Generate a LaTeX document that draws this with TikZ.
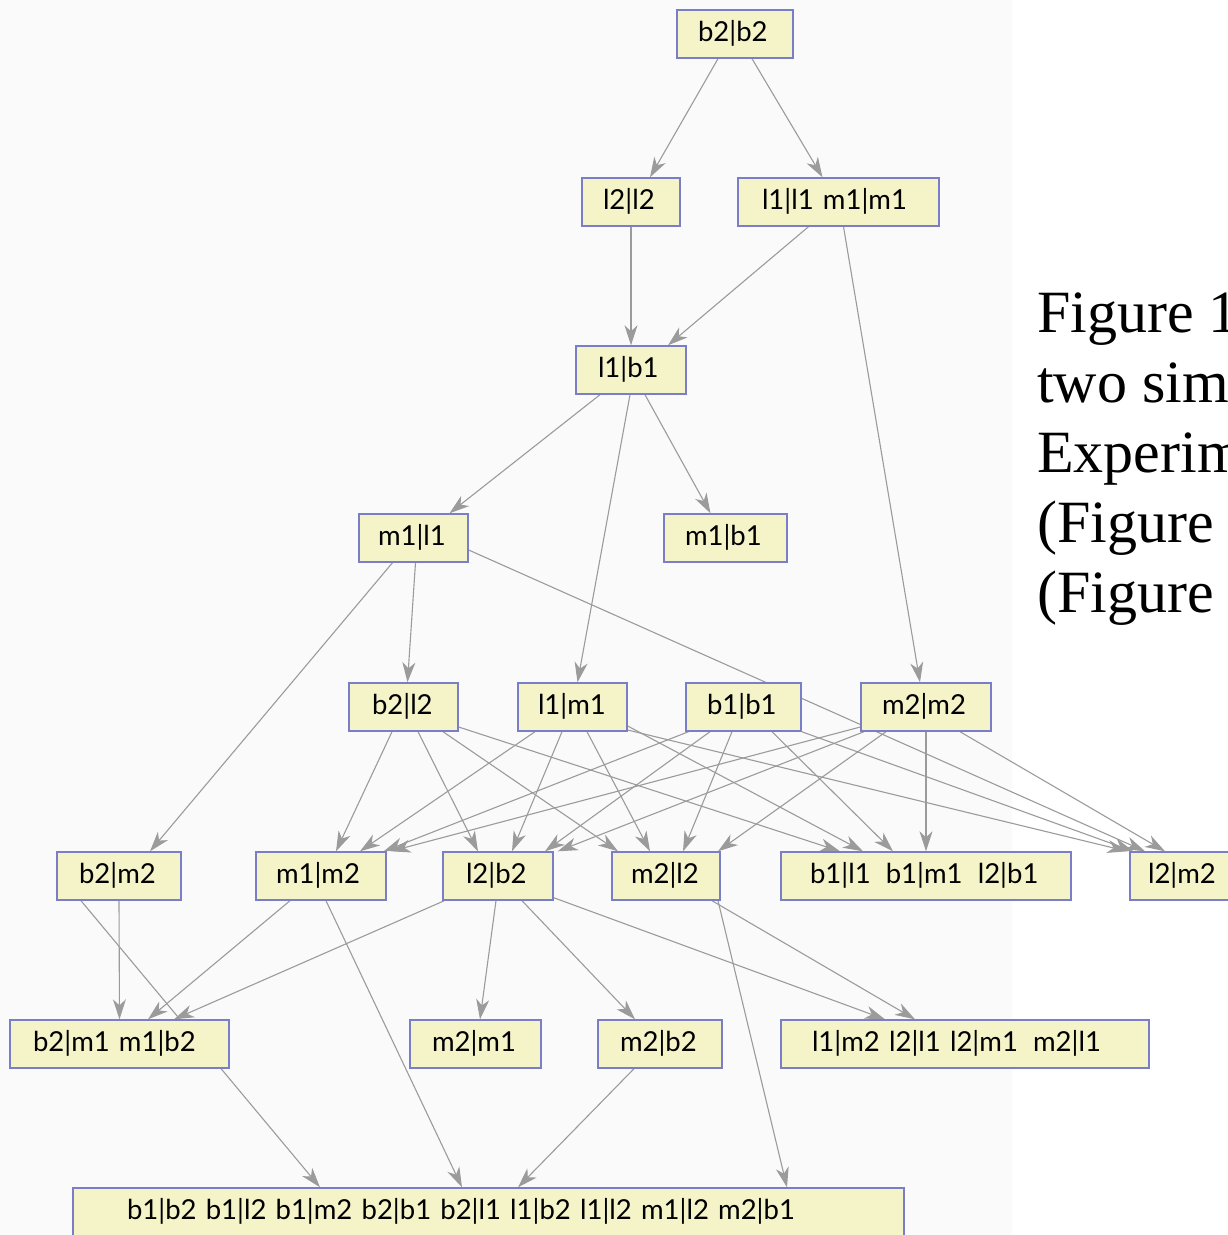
\documentclass[tikz,border=0pt]{standalone}
\usepackage{fontspec}
\setmainfont{Liberation Serif}
\newfontfamily\labfont{Lato}
\usetikzlibrary{arrows.meta}
\pgfdeclarelayer{backdrop}
\pgfdeclarelayer{edges}
\pgfsetlayers{backdrop,edges,main}

\definecolor{boxfill}{RGB}{245,243,200}
\definecolor{boxline}{RGB}{122,126,200}
\definecolor{edgecol}{RGB}{155,155,155}
\definecolor{panel}{RGB}{250,250,250}

\newcommand{\gap}{\hspace{0.55em}}

\tikzset{
  box/.style={draw=boxline, fill=boxfill, line width=1.4pt, rectangle,
    minimum height=48pt, inner ysep=0pt, align=left,
    font=\labfont\fontsize{27.5}{30}\selectfont, text height=19pt, text depth=5pt},
  edge/.style={draw=edgecol, line width=1.1pt,
    -{Stealth[length=20pt,width=13pt,inset=6pt]}},
  caption/.style={font=\fontsize{60}{70}\selectfont, anchor=base west, inner sep=0pt}
}

\begin{document}
\begin{tikzpicture}[x=1pt,y=-1pt]
\clip (0,0) rectangle (1228,1235);
\begin{pgfonlayer}{backdrop}
\fill[white] (0,0) rectangle (1228,1235);
\fill[panel] (0,0) rectangle (1012,1235);
\end{pgfonlayer}

% lattice nodes, row by row
\node[box, inner xsep=21pt, text width=74pt]  (bb)   at (735,34)    {b2|b2};

\node[box, inner xsep=21pt, text width=56pt]  (ll2)  at (631,202)   {l2|l2};
\node[box, inner xsep=24pt, text width=153pt] (llmm) at (838.5,202) {l1|l1 m1|m1};

\node[box, inner xsep=22pt, text width=66pt]  (lb1)  at (631,370)   {l1|b1};

\node[box, inner xsep=19pt, text width=71pt]  (ml1)  at (413.5,538) {m1|l1};
\node[box, inner xsep=21pt, text width=81pt]  (mb1)  at (725.5,538) {m1|b1};

\node[box, inner xsep=23pt, text width=63pt]  (bl2)  at (403.5,707) {b2|l2};
\node[box, inner xsep=20pt, text width=69pt]  (lm1)  at (572.5,707) {l1|m1};
\node[box, inner xsep=21pt, text width=73pt]  (bb1)  at (743.5,707) {b1|b1};
\node[box, inner xsep=21pt, text width=88pt]  (mm2)  at (926,707)   {m2|m2};

\node[box, inner xsep=22pt, text width=80pt]  (bm2)  at (119,876)   {b2|m2};
\node[box, inner xsep=20pt, text width=90pt]  (mm12) at (321,876)   {m1|m2};
\node[box, inner xsep=23pt, text width=64pt]  (lb2)  at (498,876)   {l2|b2};
\node[box, inner xsep=19pt, text width=70pt]  (ml2)  at (666,876)   {m2|l2};
\node[box, inner xsep=29pt, text width=232pt] (grpB) at (926,876)   {b1|l1\gap b1|m1\gap l2|b1};
\node[box, inner xsep=18pt, text width=84pt]  (lm2)  at (1190,876)  {l2|m2};

\node[box, inner xsep=23pt, text width=173pt] (grpC) at (119.5,1044) {b2|m1 m1|b2};
\node[box, inner xsep=22pt, text width=87pt]  (mm21) at (475.5,1044) {m2|m1};
\node[box, inner xsep=22pt, text width=80pt]  (mb2)  at (660,1044)   {m2|b2};
\node[box, inner xsep=31pt, text width=306pt] (grpD) at (965,1044)   {l1|m2 l2|l1 l2|m1\gap m2|l1};

\node[box, inner xsep=54pt, text width=723pt] (bot)  at (488.5,1212) {b1|b2 b1|l2 b1|m2 b2|b1 b2|l1 l1|b2 l1|l2 m1|l2 m2|b1};

% caption text on the right
\node[caption] (cap1) at (1037,332) {Figure 1};
\node[caption] (cap2) at (1037,402) {two sim};
\node[caption] (cap3) at (1037,472) {Experim};
\node[caption] (cap4) at (1037,542) {(Figure};
\node[caption] (cap5) at (1037,612) {(Figure};

\begin{pgfonlayer}{edges}
% upper part
\draw[edge] ([xshift=-17pt]bb.south) -- ([xshift=19pt]ll2.north);
\draw[edge] ([xshift=17pt]bb.south) -- ([xshift=-16pt]llmm.north);
\draw[edge] (ll2.south) -- (lb1.north);
\draw[edge] ([xshift=-30pt]llmm.south) -- ([xshift=37pt]lb1.north);
\draw[edge] ([xshift=5pt]llmm.south) -- ([xshift=-6pt]mm2.north);
\draw[edge] ([xshift=-31pt]lb1.south) -- ([xshift=36pt]ml1.north);
\draw[edge] ([xshift=14pt]lb1.south) -- ([xshift=-15pt]mb1.north);
\draw[edge] ([xshift=-1pt]lb1.south) -- ([xshift=5pt]lm1.north);
\draw[edge] ([xshift=-21pt]ml1.south) -- ([xshift=31pt]bm2.north);
\draw[edge] ([xshift=2pt]ml1.south) -- ([xshift=4pt]bl2.north);
\draw[edge] ([yshift=-12pt]ml1.east) -- ([xshift=-45pt]lm2.north);

% from b2|l2
\draw[edge] ([xshift=-11.5pt]bl2.south) -- ([xshift=15pt]mm12.north);
\draw[edge] ([xshift=14.5pt]bl2.south) -- ([xshift=-20pt]lb2.north);
\draw[edge] ([xshift=39.5pt]bl2.south) -- ([xshift=-48pt]ml2.north);
\draw[edge] ([yshift=-20pt]bl2.east) -- ([xshift=-86pt]grpB.north);

% from l1|m1
\draw[edge] ([xshift=-37.5pt]lm1.south) -- ([xshift=39pt]mm12.north);
\draw[edge] ([xshift=-10.5pt]lm1.south) -- ([xshift=14pt]lb2.north);
\draw[edge] ([xshift=14.5pt]lm1.south) -- ([xshift=-16pt]ml2.north);
\draw[edge] ([yshift=-19pt]lm1.east) -- ([xshift=-63pt]grpB.north);
\draw[edge] ([yshift=-23pt]lm1.east) -- ([xshift=-2pt]lm2.north west);

% from b1|b1
\draw[edge] ([xshift=-55pt]bb1.south) -- ([xshift=-3pt]mm12.north east);
\draw[edge] ([xshift=-33.5pt]bb1.south) -- ([xshift=47pt]lb2.north);
\draw[edge] ([xshift=-11.5pt]bb1.south) -- ([xshift=17pt]ml2.north);
\draw[edge] ([xshift=28.5pt]bb1.south) -- ([xshift=-33pt]grpB.north);
\draw[edge] (bb1.south east) -- ([xshift=4pt]lm2.north west);

% from m2|m2
\draw[edge] ([yshift=-20pt]mm2.west) -- ([xshift=4pt]mm12.north east);
\draw[edge] ([xshift=-62pt]mm2.south) -- ([xshift=4pt]lb2.north east);
\draw[edge] ([xshift=-40pt]mm2.south) -- ([xshift=52pt]ml2.north);
\draw[edge] (mm2.south) -- (grpB.north);
\draw[edge] ([xshift=34pt]mm2.south) -- ([xshift=-25pt]lm2.north);

% lower part
\draw[edge] (bm2.south) -- (grpC.north);
\draw[edge] ([xshift=-38pt]bm2.south) -- ([xshift=-168.5pt]bot.north);
\draw[edge] ([xshift=-31pt]mm12.south) -- ([xshift=28.5pt]grpC.north);
\draw[edge] ([xshift=5pt]mm12.south) -- ([xshift=-26.5pt]bot.north);
\draw[edge] ([xshift=2pt]lb2.south west) -- ([xshift=54.5pt]grpC.north);
\draw[edge] ([xshift=-2pt]lb2.south) -- ([xshift=4.5pt]mm21.north);
\draw[edge] ([xshift=24pt]lb2.south) -- ([xshift=-25pt]mb2.north);
\draw[edge] ([yshift=3pt]lb2.south east) -- ([xshift=-80pt]grpD.north);
\draw[edge] ([xshift=46pt]ml2.south) -- ([xshift=-50pt]grpD.north);
\draw[edge] ([xshift=52pt]ml2.south) -- ([xshift=298.5pt]bot.north);
\draw[edge] ([xshift=-26pt]mb2.south) -- ([xshift=29.5pt]bot.north);
\end{pgfonlayer}
\end{tikzpicture}
\end{document}
